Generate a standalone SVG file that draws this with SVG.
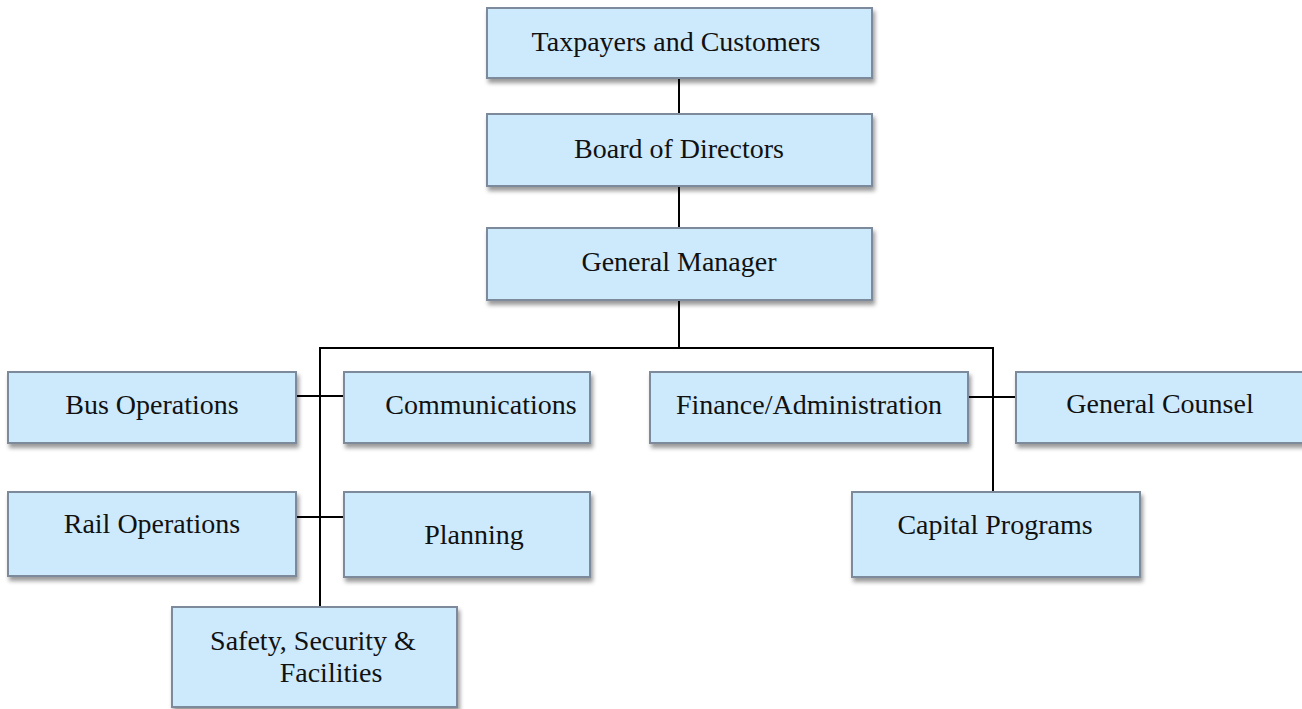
<svg xmlns="http://www.w3.org/2000/svg" width="1302" height="709" viewBox="0 0 1302 709">
<defs>
<filter id="sh" x="-10%" y="-20%" width="130%" height="150%">
<feDropShadow dx="2" dy="4" stdDeviation="2" flood-color="#000" flood-opacity="0.4"/>
</filter>
<style>
.box{fill:#cdeafd;stroke:#7d8a9b;stroke-width:2;filter:url(#sh)}
.t{font-family:"Liberation Serif","Times New Roman",serif;font-size:28px;fill:#111;text-anchor:middle}
.c{stroke:#000;stroke-width:2;fill:none}
</style>
</defs>
<rect width="1302" height="709" fill="#fff"/>
<g id="connectors">
<line class="c" x1="679" y1="78" x2="679" y2="114"/>
<line class="c" x1="679" y1="186" x2="679" y2="228"/>
<line class="c" x1="679" y1="300" x2="679" y2="348"/>
<polyline class="c" points="320,607 320,348 993,348 993,492"/>
<line class="c" x1="296" y1="396" x2="344" y2="396"/>
<line class="c" x1="296" y1="517" x2="344" y2="517"/>
<line class="c" x1="968" y1="397" x2="1016" y2="397"/>
</g>
<g id="taxpayers"><rect class="box" x="487" y="8" width="385" height="70"/><text class="t" x="676" y="51">Taxpayers and Customers</text></g>
<g id="board"><rect class="box" x="487" y="114" width="385" height="72"/><text class="t" x="679" y="158">Board of Directors</text></g>
<g id="gm"><rect class="box" x="487" y="228" width="385" height="72"/><text class="t" x="679" y="271">General Manager</text></g>
<g id="bus"><rect class="box" x="8" y="372" width="288" height="71"/><text class="t" x="152" y="414">Bus Operations</text></g>
<g id="comm"><rect class="box" x="344" y="372" width="246" height="71"/><text class="t" x="481" y="414">Communications</text></g>
<g id="finance"><rect class="box" x="650" y="372" width="318" height="71"/><text class="t" x="809" y="414">Finance/Administration</text></g>
<g id="counsel"><rect class="box" x="1016" y="372" width="290" height="71"/><text class="t" x="1160" y="413">General Counsel</text></g>
<g id="rail"><rect class="box" x="8" y="492" width="288" height="84"/><text class="t" x="152" y="533">Rail Operations</text></g>
<g id="planning"><rect class="box" x="344" y="492" width="246" height="85"/><text class="t" x="474" y="544">Planning</text></g>
<g id="capital"><rect class="box" x="852" y="492" width="288" height="85"/><text class="t" x="995" y="534">Capital Programs</text></g>
<g id="safety"><rect class="box" x="172" y="607" width="285" height="100"/><text class="t" x="313" y="650">Safety, Security &amp;</text><text class="t" x="331" y="682">Facilities</text></g>
</svg>
